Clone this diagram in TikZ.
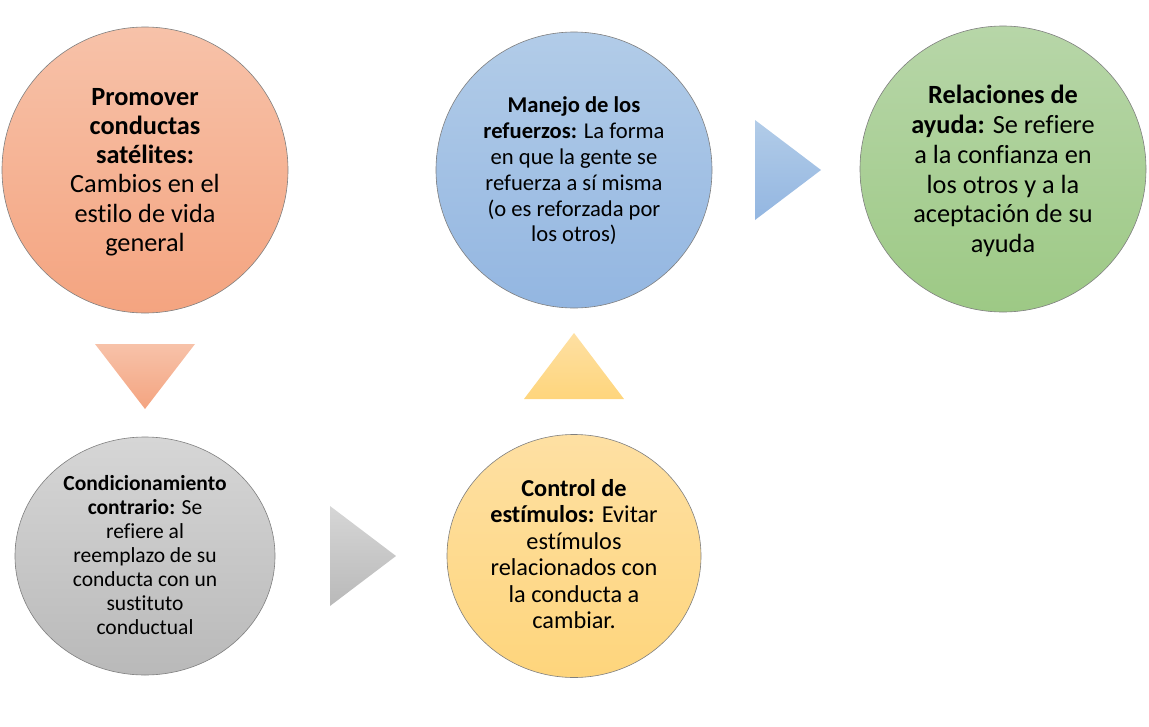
\documentclass[tikz,border=0pt]{standalone}
\usepackage{fontspec}
\setmainfont{Carlito}[Ligatures=NoCommon]
\usetikzlibrary{shapes.geometric}
\definecolor{orT}{HTML}{F7C2A9}
\definecolor{orB}{HTML}{F4A480}
\definecolor{blT}{HTML}{B2CCE8}
\definecolor{blB}{HTML}{93B6E1}
\definecolor{grT}{HTML}{B7D6A8}
\definecolor{grB}{HTML}{9DC985}
\definecolor{gyT}{HTML}{D6D6D6}
\definecolor{gyB}{HTML}{B9B9B9}
\definecolor{ylT}{HTML}{FEE0A3}
\definecolor{ylB}{HTML}{FED57C}
\definecolor{edge}{HTML}{7F7F7F}
\tikzset{
  bubble/.style={draw=edge, line width=0.6pt, inner sep=0pt},
  ctext/.style={align=center, inner sep=0pt, text=black},
  arrowshape/.style={draw=none},
}
\begin{document}
\begin{tikzpicture}[x=1pt,y=-1pt]
\useasboundingbox (0,0) rectangle (1149,726);
% circles
\node[bubble, circle, minimum size=286pt, top color=orT, bottom color=orB] (c1) at (145,170) {};
\node[bubble, circle, minimum size=276pt, top color=blT, bottom color=blB] (c4) at (574,170) {};
\node[bubble, circle, minimum size=286pt, top color=grT, bottom color=grB] (c5) at (1003,169) {};
\node[bubble, ellipse, minimum width=260pt, minimum height=238pt, top color=gyT, bottom color=gyB] (c2) at (145,556) {};
\node[bubble, ellipse, minimum width=254pt, minimum height=243pt, top color=ylT, bottom color=ylB] (c3) at (574,556) {};
% texts
\node[ctext, font=\fontsize{26.3}{29.3}\selectfont] (t1) at ([yshift=-2pt]c1.center)
  {\textbf{Promover}\\\textbf{conductas}\\\textbf{satélites:}\\Cambios en el\\estilo de vida\\general};
\node[ctext, font=\fontsize{22.6}{25.8}\selectfont] (t4) at ([yshift=-1pt]c4.center)
  {\textbf{Manejo de los}\\\textbf{refuerzos:} La forma\\en que la gente se\\refuerza a sí misma\\(o es reforzada por\\los otros)};
\node[ctext, font=\fontsize{26.3}{29.8}\selectfont] (t5) at ([yshift=-2pt]c5.center)
  {\textbf{Relaciones de}\\\textbf{ayuda:} Se refiere\\a la confianza en\\los otros y a la\\aceptación de su\\ayuda};
\node[ctext, font=\fontsize{21.5}{24}\selectfont] (t2) at ([yshift=1pt]c2.center)
  {\textbf{Condicionamiento}\\\textbf{contrario:} Se\\refiere al\\reemplazo de su\\conducta con un\\sustituto\\conductual};
\node[ctext, font=\fontsize{24.3}{26.4}\selectfont] (t3) at ([yshift=2pt]c3.center)
  {\textbf{Control de}\\\textbf{estímulos:} Evitar\\estímulos\\relacionados con\\la conducta a\\cambiar.};
% arrow triangles
\shade[arrowshape, top color=orT, bottom color=orB] (95,344) -- (195,344) -- (145,409) -- cycle;
\shade[arrowshape, top color=gyT, bottom color=gyB] (330,506) -- (396,556) -- (330,606) -- cycle;
\shade[arrowshape, top color=ylT, bottom color=ylB] (524,399) -- (574,333) -- (624,399) -- cycle;
\shade[arrowshape, top color=blT, bottom color=blB] (755,120) -- (821,170) -- (755,220) -- cycle;
\end{tikzpicture}
\end{document}
